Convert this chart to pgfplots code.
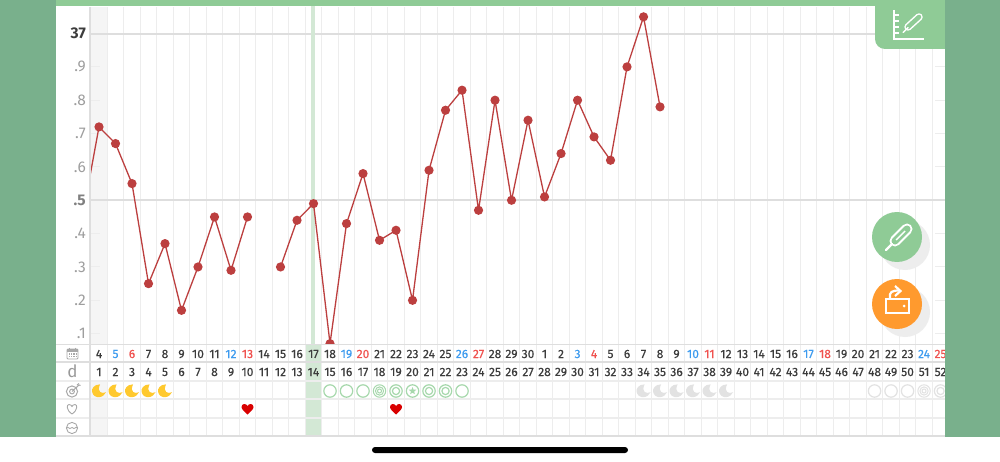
\documentclass[border=0pt]{standalone}
\usepackage{fontspec}
\setmainfont{Fira Sans}
\newfontfamily\daynum{Fira Sans}[FakeBold=0.35]
\usepackage{pgfplots}
\pgfplotsset{compat=1.18}

\definecolor{side}{HTML}{79B08C}
\definecolor{bar}{HTML}{8FCB96}
\definecolor{gridc}{HTML}{EDEDED}
\definecolor{rulec}{HTML}{DEDEDE}
\definecolor{hilite}{HTML}{D3E8D5}
\definecolor{series}{HTML}{BC3F3F}
\definecolor{dark}{HTML}{3C3C3C}
\definecolor{blueday}{HTML}{3D9BEF}
\definecolor{redday}{HTML}{F0524F}
\definecolor{moon}{HTML}{FFC92E}
\definecolor{ringg}{HTML}{A6D8AC}
\definecolor{greym}{HTML}{E2E2E2}
\definecolor{orangeb}{HTML}{FF9A2E}
\definecolor{iconc}{HTML}{A8A8A8}

% table symbols, sizes in pt = reference pixels
\pgfdeclareplotmark{crescent}{%
  \pgfpathmoveto{\pgfqpoint{1pt}{6.6pt}}
  \pgfpathcurveto{\pgfqpoint{-5pt}{6.8pt}}{\pgfqpoint{-7.5pt}{2pt}}{\pgfqpoint{-7pt}{-0.5pt}}
  \pgfpathcurveto{\pgfqpoint{-6.5pt}{-4.5pt}}{\pgfqpoint{-3pt}{-6.4pt}}{\pgfqpoint{0pt}{-6.2pt}}
  \pgfpathcurveto{\pgfqpoint{3.5pt}{-6pt}}{\pgfqpoint{6pt}{-3.5pt}}{\pgfqpoint{7pt}{-1.2pt}}
  \pgfpathcurveto{\pgfqpoint{3pt}{-3.2pt}}{\pgfqpoint{-2.6pt}{-1.4pt}}{\pgfqpoint{1pt}{6.6pt}}
  \pgfpathclose\pgfusepathqfill}
\pgfdeclareplotmark{ring}{%
  \pgfsetlinewidth{1.2pt}
  \pgfpathcircle{\pgfpointorigin}{6.2pt}\pgfusepathqstroke}
\pgfdeclareplotmark{ring2}{%
  \pgfsetlinewidth{1.2pt}
  \pgfpathcircle{\pgfpointorigin}{6.2pt}\pgfusepathqstroke
  \pgfpathcircle{\pgfpointorigin}{3.6pt}\pgfusepathqstroke}
\pgfdeclareplotmark{ring3}{%
  \pgfsetlinewidth{1pt}
  \pgfpathcircle{\pgfpointorigin}{6.2pt}\pgfusepathqstroke
  \pgfpathcircle{\pgfpointorigin}{4.1pt}\pgfusepathqstroke
  \pgfpathcircle{\pgfpointorigin}{2pt}\pgfusepathqstroke}
\pgfdeclareplotmark{ringstar}{%
  \pgfsetlinewidth{1.2pt}
  \pgfpathcircle{\pgfpointorigin}{6.2pt}\pgfusepathqstroke
  \pgfpathmoveto{\pgfqpoint{0pt}{4pt}}
  \pgfpathlineto{\pgfqpoint{1pt}{1.38pt}}\pgfpathlineto{\pgfqpoint{3.8pt}{1.24pt}}
  \pgfpathlineto{\pgfqpoint{1.62pt}{-0.53pt}}\pgfpathlineto{\pgfqpoint{2.35pt}{-3.24pt}}
  \pgfpathlineto{\pgfqpoint{0pt}{-1.7pt}}\pgfpathlineto{\pgfqpoint{-2.35pt}{-3.24pt}}
  \pgfpathlineto{\pgfqpoint{-1.62pt}{-0.53pt}}\pgfpathlineto{\pgfqpoint{-3.8pt}{1.24pt}}
  \pgfpathlineto{\pgfqpoint{-1pt}{1.38pt}}\pgfpathclose\pgfusepathqfill}
\pgfdeclareplotmark{pheart}{%
  \pgfpathmoveto{\pgfqpoint{0pt}{-5.5pt}}
  \pgfpathcurveto{\pgfqpoint{-3pt}{-2.5pt}}{\pgfqpoint{-6pt}{-0.5pt}}{\pgfqpoint{-6pt}{2pt}}
  \pgfpathcurveto{\pgfqpoint{-6pt}{5.5pt}}{\pgfqpoint{-1.5pt}{6pt}}{\pgfqpoint{0pt}{3pt}}
  \pgfpathcurveto{\pgfqpoint{1.5pt}{6pt}}{\pgfqpoint{6pt}{5.5pt}}{\pgfqpoint{6pt}{2pt}}
  \pgfpathcurveto{\pgfqpoint{6pt}{-0.5pt}}{\pgfqpoint{3pt}{-2.5pt}}{\pgfqpoint{0pt}{-5.5pt}}
  \pgfpathclose\pgfusepathqfill}

\pgfplotsset{
  sheet/.style={
    scale only axis, width=855pt,
    xmin=0.4545, xmax=52.27,
    xtick={0.5,1.5,...,52.5}, xticklabels={},
    xmajorgrids, x tick style={draw=none},
    axis line style={draw=none},
    major grid style={gridc, line width=1.2pt},
  },
  daytext/.style={
    only marks, mark size=0pt, point meta=explicit symbolic, nodes near coords,
    every node near coord/.append style={anchor=center, inner sep=0pt,
      font=\daynum\fontsize{12}{12}\selectfont, text=#1},
  },
  sym/.style 2 args={only marks, mark=#1, draw=#2, fill=#2, mark options={draw=#2, fill=#2}},
}

\begin{document}
\begin{tikzpicture}[x=1pt,y=-1pt]
\path[use as bounding box] (0,0) rectangle (1000,462);
\fill[white] (0,0) rectangle (1000,462);
\fill[bar] (56,0) rectangle (945,6.5);
% first column and ovulation day shading
\fill[black!4] (91,7) rectangle (107.5,345);
\fill[black!4] (91,381) rectangle (107.5,436);
\fill[hilite] (305.5,345) rectangle (322,436);

\begin{axis}[sheet,
  at={(90pt,-345pt)}, anchor=south west, height=338pt,
  ymin=36.066, ymax=37.0795,
  ytick={36.1,36.2,36.3,36.4,36.6,36.7,36.8,36.9},
  yticklabels={.1,.2,.3,.4,.6,.7,.8,.9},
  y tick style={gridc, line width=1pt},
  tick align=inside, major tick length=10pt,
  y tick label style={font=\fontsize{15.5}{15.5}\selectfont, text=black!38},
  tick label style={inner sep=0pt},
  yticklabel style={xshift=-4pt},
  extra y ticks={36.5,37},
  extra y tick labels={\textbf{\textcolor{black!50}{.5}},\textbf{\textcolor{dark}{37}}},
  extra y tick style={grid=major, major tick length=0pt,
    major grid style={rulec, line width=2pt}},
  unbounded coords=jump,
]
\fill[hilite] (axis cs:13.86,36) rectangle (axis cs:14.1,38);
\addplot[series, line width=1.3pt, mark=*, mark size=3.9pt, mark options={fill=series, draw=series}]
  table {
  x y
  0 36.45
  1 36.72
  2 36.67
  3 36.55
  4 36.25
  5 36.37
  6 36.17
  7 36.30
  8 36.45
  9 36.29
  10 36.45
  11 nan
  12 36.30
  13 36.44
  14 36.49
  15 36.07
  16 36.43
  17 36.58
  18 36.38
  19 36.41
  20 36.20
  21 36.59
  22 36.77
  23 36.83
  24 36.47
  25 36.80
  26 36.50
  27 36.74
  28 36.51
  29 36.64
  30 36.80
  31 36.69
  32 36.62
  33 36.90
  34 37.05
  35 36.78
  };
\end{axis}

\fill[white] (91,345) rectangle (305.5,381);
\fill[white] (322,345) rectangle (945,381);
\fill[white] (56,345) rectangle (90,436);

% table rows, y axis runs in picture pixels
\begin{axis}[sheet,
  at={(90pt,-436pt)}, anchor=south west, height=91pt,
  ymin=345, ymax=436, y dir=reverse,
  ytick={362,381,399,418}, yticklabels={},
  ymajorgrids, y tick style={draw=none},
]
\addplot[daytext=dark] coordinates {
  (1,354)[4] (4,354)[7] (5,354)[8] (6,354)[9] (7,354)[10] (8,354)[11]
  (11,354)[14] (12,354)[15] (13,354)[16] (14,354)[17] (15,354)[18]
  (18,354)[21] (19,354)[22] (20,354)[23] (21,354)[24] (22,354)[25]
  (25,354)[28] (26,354)[29] (27,354)[30] (28,354)[1] (29,354)[2]
  (32,354)[5] (33,354)[6] (34,354)[7] (35,354)[8] (36,354)[9]
  (39,354)[12] (40,354)[13] (41,354)[14] (42,354)[15] (43,354)[16]
  (46,354)[19] (47,354)[20] (48,354)[21] (49,354)[22] (50,354)[23]
};
\addplot[daytext=blueday] coordinates {
  (2,354)[5] (9,354)[12] (16,354)[19] (23,354)[26]
  (30,354)[3] (37,354)[10] (44,354)[17] (51,354)[24]
};
\addplot[daytext=redday] coordinates {
  (3,354)[6] (10,354)[13] (17,354)[20] (24,354)[27]
  (31,354)[4] (38,354)[11] (45,354)[18] (52,354)[25]
};
\addplot[daytext=dark] coordinates {
  (1,372)[1] (2,372)[2] (3,372)[3] (4,372)[4] (5,372)[5] (6,372)[6] (7,372)[7]
  (8,372)[8] (9,372)[9] (10,372)[10] (11,372)[11] (12,372)[12] (13,372)[13]
  (14,372)[14] (15,372)[15] (16,372)[16] (17,372)[17] (18,372)[18] (19,372)[19]
  (20,372)[20] (21,372)[21] (22,372)[22] (23,372)[23] (24,372)[24] (25,372)[25]
  (26,372)[26] (27,372)[27] (28,372)[28] (29,372)[29] (30,372)[30] (31,372)[31]
  (32,372)[32] (33,372)[33] (34,372)[34] (35,372)[35] (36,372)[36] (37,372)[37]
  (38,372)[38] (39,372)[39] (40,372)[40] (41,372)[41] (42,372)[42] (43,372)[43]
  (44,372)[44] (45,372)[45] (46,372)[46] (47,372)[47] (48,372)[48] (49,372)[49]
  (50,372)[50] (51,372)[51] (52,372)[52]
};
\addplot[sym={crescent}{moon}] coordinates {(1,391) (2,391) (3,391) (4,391) (5,391)};
\addplot[sym={crescent}{greym}] coordinates {(34,391) (35,391) (36,391) (37,391) (38,391) (39,391)};
\addplot[sym={ring}{ringg}] coordinates {(15,391) (16,391) (17,391) (23,391)};
\addplot[sym={ring2}{ringg}] coordinates {(19,391) (21,391) (22,391)};
\addplot[sym={ring3}{ringg}] coordinates {(18,391)};
\addplot[sym={ringstar}{ringg}] coordinates {(20,391)};
\addplot[sym={ring}{greym}] coordinates {(48,391) (49,391) (50,391)};
\addplot[sym={ring3}{greym}] coordinates {(51,391)};
\addplot[sym={ring2}{greym}] coordinates {(52,391)};
\addplot[sym={pheart}{red!85!black}] coordinates {(10,409) (19,409)};
\end{axis}

% row rules and frame
\draw[rulec, line width=1.8pt] (56,344.5) -- (945,344.5);
\draw[rulec, line width=1.8pt] (56,362) -- (945,362);
\draw[rulec, line width=1.8pt] (56,436) -- (945,436);
\draw[gridc, line width=1.2pt] (56,381) -- (90,381) (56,399) -- (90,399) (56,418) -- (90,418);
\draw[rulec, line width=1.8pt] (90,7) -- (90,436);

% row icons
\draw[iconc, line width=0.9pt, rounded corners=1pt] (67,349) rectangle (78,359);
\fill[iconc] (67,349) rectangle (78,351.5);
\draw[iconc, line width=0.9pt] (69.5,347.5) -- (69.5,349.5) (75.5,347.5) -- (75.5,349.5);
\draw[iconc, densely dotted, line width=1.2pt] (69,354) -- (76.5,354) (69,356.8) -- (76.5,356.8);
\node[text=black!40, font=\fontsize{17}{17}\selectfont, inner sep=0pt] at (72.5,371.5) {d};
\draw[iconc, line width=1pt] (72,391.5) circle (5.6);
\draw[iconc, line width=1pt] (72,391.5) circle (2.4);
\draw[iconc, line width=1pt] (72,391.5) -- (79,385);
\draw[iconc, line width=1pt] (77,385) -- (79,383.5) (79,385) -- (80.5,385.5);
\draw[iconc, line width=0.9pt] (72,414) .. controls (66,410) and (66.5,404.5) .. (69,404.5)
  .. controls (70.5,404.5) and (71.5,405.5) .. (72,406.5)
  .. controls (72.5,405.5) and (73.5,404.5) .. (75,404.5)
  .. controls (77.5,404.5) and (78,410) .. (72,414);
\draw[iconc, line width=0.9pt] (72,428) circle (5.6);
\draw[iconc, line width=0.8pt] (66.8,428) .. controls (68.5,426) and (69.5,430) .. (71,428) .. controls (72.5,426) and (73.5,430) .. (75,428) .. controls (76,426.5) and (76.5,427.5) .. (77.2,428);

% phone frame over the chart
\fill[side] (0,0) rectangle (55.5,436.5);
\fill[side] (945,0) rectangle (1000,436.5);
\fill[black, rounded corners=3pt] (372,447) rectangle (628,453);

% top right button
\fill[bar, rounded corners=10pt] (875,-12) rectangle (957,49);
\fill[side] (945,0) rectangle (1000,60);
\draw[white, line width=1.6pt] (894,10) -- (894,39) -- (924,39);
\draw[white, line width=1.3pt] (894,15) -- (899,15) (894,21) -- (899,21) (894,27) -- (899,27) (894,33) -- (899,33);
\draw[white, line width=7.5pt, line cap=round] (908,27) -- (919,17);
\draw[bar, line width=4.5pt, line cap=round] (908,27) -- (919,17);
\draw[white, line width=1.4pt, line cap=round] (903,32.5) -- (908,27.5);

% floating buttons
\fill[black!7] (905,245) circle (25);
\fill[bar] (897,237) circle (25);
\draw[white, line width=11pt, line cap=round] (895,241) -- (907,229);
\draw[bar, line width=7pt, line cap=round] (895,241) -- (907,229);
\draw[white, line width=1.4pt] (896,240) -- (905,231);
\draw[white, line width=2.2pt, line cap=round] (886,250) -- (892,244);
\fill[black!7] (905,312) circle (25);
\fill[orangeb] (897,304) circle (25);
\draw[white, line width=2.2pt] (886,299) rectangle (909,313);
\fill[white] (904,306) circle (1.5);
\draw[white, line width=2.2pt] (890,298) .. controls (889,292) and (892,290.5) .. (899,290.5);
\draw[white, line width=2.2pt, line join=miter] (895,286) -- (900.5,291) -- (895,296);
\end{tikzpicture}
\end{document}
